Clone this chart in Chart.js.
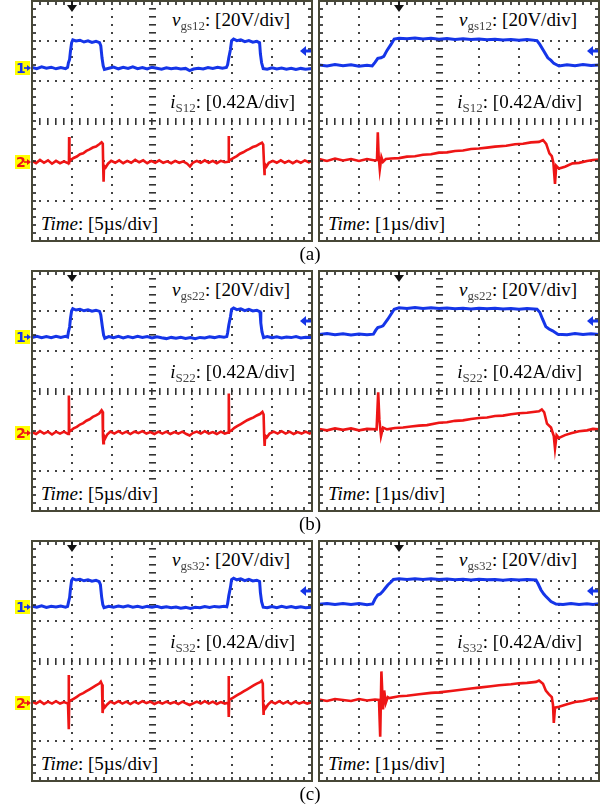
<!DOCTYPE html>
<html><head><meta charset="utf-8">
<script src="https://cdn.jsdelivr.net/npm/chart.js@4.4.1/dist/chart.umd.min.js"></script>
<style>
html,body{margin:0;padding:0;background:#fff;}
#wrap{position:relative;width:616px;height:811px;overflow:hidden;font-family:"Liberation Serif","Times New Roman",serif;color:#000;}
canvas{position:absolute;}
.lbl{position:absolute;font-size:19px;line-height:19px;white-space:nowrap;background:#fff;padding:3px 3px;}
.sub{font-size:13px;position:relative;top:4px;color:#444;}
.cap{position:absolute;font-size:19px;line-height:19px;width:60px;text-align:center;}
</style></head><body><div id="wrap"></div>
<script>
// ---- DATA: [time (µs), value] ; vgs in V, iS in A ----
const aLeftVgs=[[0,0.2],[0.6,-0.4],[1.2,0.5],[1.8,-0.2],[2.4,0.3],[3.0,-0.5],[3.6,0.1],[4.2,-0.4],[4.45,0.2],[4.55,2.5],[4.7,4.2],[4.8,8],[4.95,12.5],[5.1,14.0],[5.5,13.4],[6.0,13.8],[6.5,12.9],[7.0,13.5],[7.5,12.7],[8.0,13.2],[8.45,12.6],[8.6,11],[8.75,5],[8.9,1],[9.05,-0.8],[9.6,-0.2],[10.2,0.4],[10.8,-0.5],[11.4,0.2],[12.0,-0.3],[12.6,0.5],[13.2,-0.4],[13.8,0.1],[14.4,-0.6],[15.0,0.3],[15.6,-0.2],[16.2,-0.7],[16.8,0],[17.4,-0.5],[18.0,-0.1],[18.6,-0.6],[19.2,-0.3],[19.7,-1.4],[20.2,-0.6],[20.8,-0.2],[21.4,-0.6],[22.0,0.1],[22.6,-0.3],[23.2,0.3],[23.8,-0.2],[24.3,0.2],[24.45,1.5],[24.6,5],[24.8,9],[24.95,13.5],[25.2,14.4],[25.6,13.6],[26.1,14],[26.6,13.1],[27.1,13.6],[27.6,12.8],[28.1,13.2],[28.45,12.5],[28.55,7],[28.7,2.5],[28.9,-0.4],[29.4,-0.7],[30.0,0],[30.6,-0.6],[31.2,-0.1],[31.8,-0.7],[32.4,-0.2],[33.0,-0.8],[33.6,-0.3],[34.2,-0.7],[35,-0.4]];
const aLeftIs=[[0,0.01],[0.5,-0.015],[1.0,0.02],[1.5,-0.01],[2.0,0.015],[2.5,-0.02],[3.0,0.01],[3.5,-0.015],[4.0,0.005],[4.5,-0.015],[4.62,-0.01],[4.64,0.26],[4.68,0.0],[4.85,0.02],[5.2,0.04],[5.6,0.055],[6.0,0.08],[6.4,0.09],[6.8,0.115],[7.2,0.13],[7.6,0.15],[8.0,0.16],[8.4,0.185],[8.7,0.205],[8.85,0.19],[8.9,-0.05],[8.95,-0.21],[9.0,-0.04],[9.2,-0.06],[9.5,-0.02],[9.9,0.01],[10.4,-0.01],[10.9,0.015],[11.4,-0.015],[11.9,0.01],[12.4,-0.01],[12.9,0.02],[13.4,-0.005],[13.9,0.015],[14.4,-0.015],[14.9,0.01],[15.4,-0.01],[15.9,0.015],[16.4,-0.01],[16.9,0.005],[17.4,-0.015],[17.9,0.01],[18.4,-0.01],[18.9,0.005],[19.4,-0.02],[19.75,-0.05],[20.1,-0.01],[20.6,0.01],[21.1,-0.01],[21.6,0.015],[22.1,-0.01],[22.6,0.01],[23.1,-0.015],[23.6,0.01],[24.1,-0.005],[24.56,0.0],[24.58,0.27],[24.62,0.01],[24.8,0.02],[25.2,0.04],[25.6,0.06],[26.0,0.085],[26.4,0.1],[26.8,0.12],[27.2,0.135],[27.6,0.155],[28.0,0.165],[28.4,0.185],[28.75,0.2],[28.9,0.18],[29.0,-0.02],[29.05,-0.14],[29.1,-0.02],[29.3,-0.05],[29.6,-0.01],[30.1,0.01],[30.6,-0.01],[31.1,0.015],[31.6,-0.01],[32.1,0.01],[32.6,-0.015],[33.1,0.01],[33.6,-0.01],[34.1,0.015],[34.6,-0.005],[35,0.01]];
const aRightVgs=[[0,0.2],[0.2,-0.3],[0.4,0.4],[0.6,-0.2],[0.8,0.3],[1.0,-0.4],[1.2,0.1],[1.33,-0.3],[1.4,1.5],[1.47,3.5],[1.55,3.8],[1.62,4.5],[1.7,7.5],[1.8,10.5],[1.88,13.2],[2.0,13.6],[2.2,13.3],[2.4,13.7],[2.6,13.2],[2.8,13.6],[3.0,13.1],[3.2,13.5],[3.4,13.0],[3.6,13.3],[3.8,12.9],[4.0,13.2],[4.2,12.8],[4.4,13.1],[4.6,12.7],[4.8,13.0],[5.0,12.6],[5.2,12.9],[5.45,12.4],[5.52,10.5],[5.6,7.8],[5.72,3.8],[5.8,2.5],[5.87,1.0],[6.0,-0.3],[6.2,0.3],[6.4,-0.2],[6.6,0.4],[6.8,-0.1],[7,0.2]];
const aRightIs=[[0,0.01],[0.2,-0.01],[0.4,0.015],[0.6,-0.005],[0.8,0.01],[1.0,-0.01],[1.2,0.01],[1.4,-0.005],[1.45,0.0],[1.47,0.29],[1.49,0.05],[1.52,-0.1],[1.56,0.03],[1.6,-0.02],[1.67,0.01],[1.8,0.015],[2.0,0.02],[2.2,0.035],[2.4,0.04],[2.6,0.055],[2.8,0.06],[3.0,0.077],[3.2,0.08],[3.4,0.095],[3.6,0.1],[3.8,0.115],[4.0,0.12],[4.2,0.13],[4.4,0.14],[4.68,0.15],[4.9,0.165],[5.1,0.17],[5.3,0.185],[5.5,0.19],[5.6,0.21],[5.68,0.17],[5.76,0.07],[5.82,0.04],[5.86,-0.03],[5.9,-0.25],[5.93,-0.06],[6.0,-0.09],[6.15,-0.07],[6.34,-0.035],[6.5,-0.03],[6.7,-0.01],[6.85,0.0],[7,0.005]];
const bLeftVgs=[[0,-0.3],[0.6,0.3],[1.2,-0.4],[1.8,0.2],[2.4,-0.3],[3.0,0.4],[3.6,-0.2],[4.2,0.3],[4.45,0],[4.55,2.5],[4.7,5],[4.8,9],[4.95,13],[5.1,14.2],[5.5,13.5],[6.0,13.9],[6.5,13.1],[7.0,13.6],[7.5,12.9],[8.0,13.4],[8.45,12.8],[8.6,11],[8.8,5],[8.95,1],[9.1,-0.6],[9.6,0.2],[10.2,-0.4],[10.8,0.3],[11.4,-0.5],[12.0,0.2],[12.6,-0.3],[13.2,0.4],[13.8,-0.2],[14.4,0.2],[15.0,-0.5],[15.6,0.1],[16.2,-0.4],[16.8,-0.8],[17.4,-0.2],[18.0,-0.6],[18.6,-0.1],[19.2,-0.7],[19.8,-0.3],[20.4,-0.8],[21.0,-0.2],[21.6,-0.5],[22.2,0.1],[22.8,-0.3],[23.4,0.2],[24.0,-0.1],[24.35,0.2],[24.45,2],[24.6,6],[24.8,10],[24.95,13.8],[25.2,14.5],[25.6,13.7],[26.1,14.1],[26.6,13.2],[27.1,13.8],[27.6,13],[28.1,13.4],[28.5,12.6],[28.6,7],[28.75,2.5],[28.95,-0.3],[29.4,0.2],[30.0,-0.4],[30.6,0.1],[31.2,-0.5],[31.8,0],[32.4,-0.3],[33.0,0.2],[33.6,-0.5],[34.2,-0.1],[35,-0.3]];
const bLeftIs=[[0,0.005],[0.5,-0.015],[1.0,0.015],[1.5,-0.01],[2.0,0.01],[2.5,-0.02],[3.0,0.01],[3.5,-0.01],[4.0,0.01],[4.5,-0.015],[4.6,0.0],[4.62,0.39],[4.66,0.01],[4.85,0.02],[5.2,0.045],[5.6,0.06],[6.0,0.085],[6.4,0.1],[6.8,0.125],[7.2,0.14],[7.6,0.165],[8.0,0.18],[8.4,0.2],[8.7,0.235],[8.82,0.22],[8.87,-0.04],[8.92,-0.11],[8.98,-0.03],[9.15,-0.06],[9.4,-0.02],[9.8,0.01],[10.3,-0.01],[10.8,0.015],[11.3,-0.01],[11.8,0.01],[12.3,-0.015],[12.8,0.01],[13.3,-0.005],[13.8,0.015],[14.3,-0.01],[14.8,0.005],[15.3,-0.015],[15.8,0.01],[16.3,-0.01],[16.8,0.01],[17.3,-0.015],[17.8,0.005],[18.3,-0.01],[18.8,0.01],[19.3,-0.015],[19.7,-0.03],[20.1,-0.005],[20.6,0.01],[21.1,-0.01],[21.6,0.015],[22.1,-0.01],[22.6,0.005],[23.1,-0.015],[23.6,0.01],[24.1,-0.01],[24.55,0.0],[24.6,0.41],[24.64,0.01],[24.9,0.02],[25.3,0.05],[25.7,0.07],[26.1,0.09],[26.5,0.11],[26.9,0.13],[27.3,0.145],[27.7,0.16],[28.1,0.18],[28.5,0.195],[28.8,0.217],[28.95,0.19],[29.02,-0.03],[29.08,-0.14],[29.14,-0.03],[29.35,-0.05],[29.7,-0.01],[30.2,0.01],[30.7,-0.01],[31.2,0.015],[31.7,-0.01],[32.2,0.01],[32.7,-0.015],[33.2,0.005],[33.7,-0.01],[34.2,0.01],[34.7,-0.01],[35,0.005]];
const bRightVgs=[[0,-0.2],[0.2,0.3],[0.4,-0.3],[0.6,0.2],[0.8,-0.4],[1.0,0.1],[1.2,-0.3],[1.36,0],[1.42,2],[1.47,3.3],[1.55,3.8],[1.6,4.2],[1.72,7.5],[1.8,10],[1.88,12.5],[2.0,13.2],[2.2,12.8],[2.4,13.3],[2.6,12.9],[2.8,13.2],[3.0,12.8],[3.2,13.1],[3.4,12.7],[3.6,13.0],[3.8,12.6],[4.0,13.0],[4.2,12.7],[4.4,13.0],[4.6,12.6],[4.8,12.9],[5.0,12.5],[5.2,12.8],[5.45,12.5],[5.52,11],[5.59,7.5],[5.67,3.8],[5.75,2.6],[5.84,1.7],[5.97,0],[6.2,-0.3],[6.4,0.3],[6.6,-0.2],[6.8,0.2],[7,-0.1]];
const bRightIs=[[0,0.005],[0.2,-0.01],[0.4,0.01],[0.6,-0.005],[0.8,0.01],[1.0,-0.01],[1.2,0.005],[1.44,0],[1.48,0.39],[1.51,0.1],[1.55,-0.07],[1.6,0.02],[1.7,0.0],[1.9,0.015],[2.1,0.02],[2.3,0.03],[2.5,0.04],[2.7,0.045],[3.0,0.07],[3.2,0.075],[3.4,0.09],[3.6,0.095],[3.8,0.11],[4.0,0.12],[4.2,0.125],[4.4,0.14],[4.6,0.145],[4.8,0.16],[5.0,0.17],[5.2,0.175],[5.5,0.19],[5.57,0.21],[5.63,0.18],[5.7,0.06],[5.8,0.02],[5.87,-0.07],[5.9,-0.2],[5.94,-0.06],[6.0,-0.09],[6.15,-0.06],[6.3,-0.04],[6.5,-0.02],[6.7,-0.01],[6.85,0.005],[7,0]];
const cLeftVgs=[[0,0.2],[0.6,-0.3],[1.2,0.4],[1.8,-0.4],[2.4,0.2],[3.0,-0.2],[3.6,0.3],[4.2,-0.3],[4.45,0.1],[4.55,2],[4.7,4.5],[4.8,8.5],[4.95,13],[5.1,14],[5.5,13.3],[6.0,13.7],[6.5,12.9],[7.0,13.4],[7.5,12.7],[8.0,13.1],[8.4,12.5],[8.55,11],[8.7,5],[8.85,1],[9.0,-0.5],[9.6,0.2],[10.2,-0.3],[10.8,0.3],[11.4,-0.2],[12.0,0.4],[12.6,-0.3],[13.2,0.2],[13.8,-0.4],[14.4,0.1],[15.0,-0.3],[15.6,0.2],[16.2,-0.5],[16.8,-0.1],[17.4,-0.6],[18.0,-0.2],[18.6,-0.8],[19.2,-0.4],[19.8,-0.9],[20.4,-0.3],[21.0,-0.6],[21.6,0],[22.2,-0.4],[22.8,0.1],[23.4,-0.2],[24.0,0.2],[24.35,-0.1],[24.45,1.5],[24.6,5.5],[24.8,9.5],[24.95,13.5],[25.2,14.2],[25.6,13.4],[26.1,13.9],[26.6,13.0],[27.1,13.6],[27.6,12.8],[28.1,13.2],[28.45,12.6],[28.55,7],[28.7,2.5],[28.9,-0.3],[29.4,-0.6],[30.0,0],[30.6,-0.5],[31.2,0.1],[31.8,-0.4],[32.4,0],[33.0,-0.5],[33.6,-0.1],[34.2,-0.6],[35,-0.3]];
const cLeftIs=[[0,0.01],[0.5,-0.01],[1.0,0.015],[1.5,-0.015],[2.0,0.01],[2.5,-0.01],[3.0,0.015],[3.5,-0.01],[4.0,0.005],[4.5,-0.01],[4.58,0.0],[4.6,0.29],[4.62,-0.28],[4.65,0.02],[4.8,0.02],[5.2,0.04],[5.6,0.06],[6.0,0.085],[6.4,0.1],[6.8,0.12],[7.2,0.14],[7.6,0.16],[8.0,0.18],[8.4,0.2],[8.6,0.22],[8.75,0.19],[8.8,-0.02],[8.85,-0.11],[8.92,-0.02],[9.1,-0.05],[9.4,-0.02],[9.8,0.01],[10.3,-0.01],[10.8,0.015],[11.3,-0.01],[11.8,0.01],[12.3,-0.015],[12.8,0.01],[13.3,-0.01],[13.8,0.015],[14.3,-0.005],[14.8,0.01],[15.3,-0.015],[15.8,0.005],[16.3,-0.01],[16.8,0.01],[17.3,-0.01],[17.8,0.005],[18.3,-0.015],[18.8,0.01],[19.3,-0.01],[19.7,-0.025],[20.1,-0.01],[20.6,0.01],[21.1,-0.01],[21.6,0.015],[22.1,-0.01],[22.6,0.01],[23.1,-0.015],[23.6,0.005],[24.1,-0.01],[24.55,0.0],[24.58,0.28],[24.61,-0.15],[24.65,0.03],[24.9,0.04],[25.3,0.06],[25.7,0.08],[26.1,0.1],[26.5,0.12],[26.9,0.14],[27.3,0.16],[27.7,0.18],[28.1,0.2],[28.5,0.215],[28.7,0.23],[28.85,0.2],[28.9,-0.02],[28.95,-0.13],[29.0,-0.03],[29.2,-0.06],[29.5,-0.02],[29.9,0.01],[30.4,-0.01],[30.9,0.015],[31.4,-0.01],[31.9,0.01],[32.4,-0.015],[32.9,0.01],[33.4,-0.01],[33.9,0.005],[34.4,-0.01],[35,0.005]];
const cRightVgs=[[0,-0.1],[0.2,0.3],[0.4,-0.3],[0.6,0.2],[0.8,-0.2],[1.0,0.3],[1.2,-0.4],[1.34,0],[1.4,2.5],[1.47,4.5],[1.53,5],[1.59,6.2],[1.66,8],[1.72,9.5],[1.8,11],[1.86,12.3],[2.0,12.6],[2.2,12.2],[2.4,12.6],[2.6,12.3],[2.8,12.6],[3.0,12.2],[3.2,12.5],[3.4,12.1],[3.6,12.4],[3.8,12.0],[4.0,12.4],[4.2,12.1],[4.4,12.3],[4.6,11.9],[4.8,12.3],[5.0,12.0],[5.2,12.2],[5.425,12.0],[5.48,10],[5.55,7],[5.62,5],[5.675,3.7],[5.8,1.2],[5.925,0],[6.1,-0.2],[6.3,0.2],[6.5,-0.3],[6.7,0.1],[6.85,-0.2],[7,0.1]];
const cRightIs=[[0,0.005],[0.2,-0.01],[0.4,0.01],[0.6,0.0],[0.8,-0.01],[1.0,0.01],[1.2,-0.005],[1.4,0.005],[1.5,0],[1.53,-0.385],[1.56,0.3],[1.6,-0.1],[1.63,0.1],[1.67,-0.03],[1.72,0.03],[1.76,0.02],[2.0,0.04],[2.2,0.045],[2.5,0.06],[2.8,0.075],[3.0,0.08],[3.3,0.095],[3.5,0.105],[3.8,0.12],[4.0,0.13],[4.3,0.145],[4.5,0.155],[4.8,0.165],[5.0,0.175],[5.2,0.18],[5.425,0.19],[5.5,0.205],[5.6,0.17],[5.67,0.1],[5.75,0.06],[5.82,0.03],[5.85,-0.05],[5.87,-0.24],[5.9,-0.08],[6.0,-0.07],[6.2,-0.045],[6.4,-0.02],[6.6,-0.01],[6.8,0.01],[7,0.02]];

const subscripts=['12','22','32'];
const captions=['(a)','(b)','(c)'];
const timeDiv=['5','1'];        // µs/div, left and right panels
const voltDiv=20, ampDiv=0.42;  // per division

// ---- layout ----
const W=280,H=240, BLUE='#1535e8', RED='#ee1515';
const rowTops=[1,271,541], colLefts=[32,319];
const panels=[
 {r:0,c:0,vgs:aLeftVgs,is:aLeftIs,g1:1.33,g2:-1.02},
 {r:0,c:1,vgs:aRightVgs,is:aRightIs,g1:1.39,g2:-0.975},
 {r:1,c:0,vgs:bLeftVgs,is:bLeftIs,g1:1.35,g2:-1.04},
 {r:1,c:1,vgs:bRightVgs,is:bRightIs,g1:1.42,g2:-0.96},
 {r:2,c:0,vgs:cLeftVgs,is:cLeftIs,g1:1.36,g2:-1.04},
 {r:2,c:1,vgs:cRightVgs,is:cRightIs,g1:1.425,g2:-0.975}
];

const scopePlugin={
 id:'scope',
 beforeDatasetsDraw(chart,args,o){
  const ctx=chart.ctx, X=v=>Math.round(chart.scales.xg.getPixelForValue(v)), Y=v=>Math.round(chart.scales.yg.getPixelForValue(v));
  ctx.save();
  ctx.fillStyle='#444';
  for(let i=1;i<7;i++){ if(i===3)continue; const x=X(i);
    for(let k=1;k<30;k++){ const y=Y(-3+k*0.2); ctx.fillRect(x-1,y-1,2,2);} }
  for(let j=-2;j<=2;j++){ if(j===0)continue; const y=Y(j);
    for(let k=1;k<35;k++){ const x=X(k*0.2); ctx.fillRect(x-1,y-1,2,2);} }
  ctx.fillStyle='#333';
  const y0=Y(0), x3=X(3);
  for(let k=1;k<35;k++){ const x=X(k*0.2); ctx.fillRect(x-1,y0-3,1.6,7);}
  for(let k=1;k<30;k++){ const y=Y(-3+k*0.2); ctx.fillRect(x3-3,y-1,7,1.6);}
  ctx.restore();
 },
 afterDatasetsDraw(chart,args,o){
  const ctx=chart.ctx, a=chart.chartArea, X=v=>Math.round(chart.scales.xg.getPixelForValue(v)), Y=v=>Math.round(chart.scales.yg.getPixelForValue(v));
  ctx.save();
  ctx.fillStyle='#222';
  for(let k=1;k<35;k++){ const x=X(k*0.2); ctx.fillRect(x-0.8,a.top,1.6,4); ctx.fillRect(x-0.8,a.bottom-4,1.6,4);}
  for(let k=1;k<30;k++){ const y=Y(-3+k*0.2); ctx.fillRect(a.left,y-0.8,4,1.6); ctx.fillRect(a.right-4,y-0.8,4,1.6);}
  ctx.strokeStyle='#474736'; ctx.lineWidth=2;
  ctx.strokeRect(a.left,a.top,a.right-a.left,a.bottom-a.top);
  // trigger position marker
  const tx=X(o.trig);
  ctx.fillStyle='#111';
  ctx.beginPath(); ctx.moveTo(tx-5,a.top+4); ctx.lineTo(tx+5,a.top+4); ctx.lineTo(tx,a.top+11); ctx.closePath(); ctx.fill();
  ctx.fillRect(tx-0.8,a.top,1.6,6);
  // trigger level marker
  const ty=Y(o.level), R=a.right;
  ctx.fillStyle=BLUE;
  ctx.beginPath(); ctx.moveTo(R-12,ty); ctx.lineTo(R-6,ty-5); ctx.lineTo(R-6,ty+5); ctx.closePath(); ctx.fill();
  ctx.fillRect(R-7,ty-1.5,6,3);
  // ground markers
  if(o.mk){
   [['1',chart.scales.yv.getPixelForValue(0),BLUE],['2',chart.scales.yi.getPixelForValue(0),RED]].forEach(([t,gy,col])=>{
     gy=Math.round(gy);
     ctx.fillStyle='#ffff00'; ctx.fillRect(a.left-17,gy-7,15,14);
     ctx.fillStyle=col; ctx.font='bold 14px "DejaVu Sans"'; ctx.textBaseline='middle'; ctx.textAlign='left';
     ctx.fillText(t,a.left-16,gy+1);
     ctx.beginPath(); ctx.moveTo(a.left-5,gy-3); ctx.lineTo(a.left-1,gy); ctx.lineTo(a.left-5,gy+3); ctx.closePath(); ctx.fill();
     ctx.fillRect(a.left-8,gy-0.8,4,1.6);
   });
  }
  ctx.restore();
 }
};

const wrap=document.getElementById('wrap');
panels.forEach(p=>{
 const L=colLefts[p.c], T=rowTops[p.r], span=p.c===0?35:7;
 const pad={left:p.c===0?22:6,right:6,top:6,bottom:6};
 const cv=document.createElement('canvas');
 cv.width=W+pad.left+pad.right; cv.height=H+pad.top+pad.bottom;
 cv.style.left=(L-pad.left)+'px'; cv.style.top=(T-pad.top)+'px';
 wrap.appendChild(cv);
 new Chart(cv,{
  type:'line',
  data:{datasets:[
   {data:p.is.map(d=>({x:d[0],y:d[1]})),yAxisID:'yi',borderColor:RED,borderWidth:2.6,pointRadius:0,tension:0,clip:0},
   {data:p.vgs.map(d=>({x:d[0],y:d[1]})),yAxisID:'yv',borderColor:BLUE,borderWidth:3,pointRadius:0,tension:0,clip:0}
  ]},
  options:{
   responsive:false,animation:false,devicePixelRatio:1,
   layout:{padding:pad},
   scales:{
    x:{type:'linear',min:0,max:span,display:false},
    xg:{type:'linear',axis:'x',min:0,max:7,display:false},
    yv:{type:'linear',axis:'y',min:(-3-p.g1)*voltDiv,max:(3-p.g1)*voltDiv,display:false},
    yi:{type:'linear',axis:'y',min:(-3-p.g2)*ampDiv,max:(3-p.g2)*ampDiv,display:false},
    yg:{type:'linear',axis:'y',min:-3,max:3,display:false}
   },
   plugins:{legend:{display:false},tooltip:{enabled:false},
     scope:{trig:p.c===0?1:2,level:1.75,mk:p.c===0}}
  },
  plugins:[scopePlugin]
 });
 const R=L+W, n=subscripts[p.r];
 const add=(html,style)=>{const d=document.createElement('div');d.className='lbl';d.innerHTML=html;Object.assign(d.style,style);wrap.appendChild(d);};
 add('<i>v</i><span class="sub">gs'+n+'</span>: [20V/div]',{right:(616-(R-22)-3)+'px',top:(T+25-16-3)+'px'});
 add('<i>i</i><span class="sub">S'+n+'</span>: [0.42A/div]',{right:(616-(R-17)-3)+'px',top:(T+107-16-3)+'px'});
 add('<i>Time</i>: ['+timeDiv[p.c]+'\u00b5s/div]',{left:(L+9-3)+'px',top:(T+229-16-3)+'px'});
});
captions.forEach((c,i)=>{
 const d=document.createElement('div');d.className='cap';d.textContent=c;
 d.style.left=(310-30)+'px'; d.style.top=(rowTops[i]+259-16)+'px'; wrap.appendChild(d);
});
</script></body></html>
